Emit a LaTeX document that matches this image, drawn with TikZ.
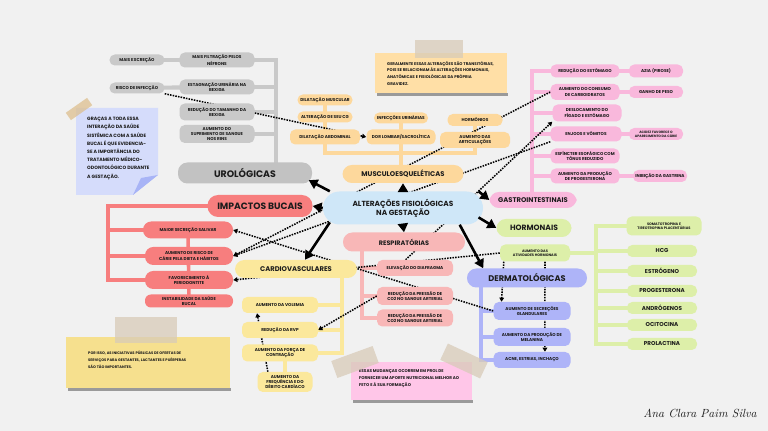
\documentclass[tikz,border=0pt]{standalone}
\usepackage{fontspec}
\usepackage{tikz}
\usetikzlibrary{arrows.meta,positioning,calc,backgrounds}
\newfontfamily\pop{Poppins}
\definecolor{paper}{HTML}{F1F1F1}
\definecolor{ink}{HTML}{1C1C1C}
\definecolor{urogray}{HTML}{C9C9C9}
\definecolor{urodark}{HTML}{C2C2C2}
\definecolor{orangel}{HTML}{FDD89C}
\definecolor{gastropink}{HTML}{F9B8DC}
\definecolor{bucalred}{HTML}{F77E7E}
\definecolor{resppink}{HTML}{F8B7B7}
\definecolor{cardioyellow}{HTML}{FBE89C}
\definecolor{hormgreen}{HTML}{DDEFA9}
\definecolor{dermablue}{HTML}{AEB4F8}
\definecolor{centerblue}{HTML}{CFE7F8}
\definecolor{noteorange}{HTML}{FFDFA6}
\definecolor{noteblue}{HTML}{D5DCFB}
\definecolor{notefold}{HTML}{A8B4F6}
\definecolor{noteyellow}{HTML}{F6E08E}
\definecolor{notepink}{HTML}{FFC6E8}
\definecolor{tape}{HTML}{D8CBB8}
\definecolor{tapewarm}{HTML}{DDBF8F}
\definecolor{shadow}{HTML}{9A9A9A}
\pgfdeclarelayer{paper}
\pgfdeclarelayer{links}
\pgfsetlayers{paper,links,main}
\tikzset{
  leaf/.style={rectangle, rounded corners=4.5pt, fill=#1, text=ink,
    font=\pop\bfseries\fontsize{3.6}{4.3}\selectfont, align=center, inner sep=1pt},
  leaf/.default=urogray,
  topic/.style={rectangle, rounded corners=8pt, fill=#1, text=ink,
    font=\pop\bfseries\fontsize{6}{7}\selectfont, align=center, inner sep=2pt},
  topic/.default=urodark,
  boxsize/.style 2 args={minimum width=#1*0.85pt, minimum height=#2*0.85pt},
  stem/.style={line width=3pt, color=#1, line cap=rect},
  mainarrow/.style={-{Triangle[length=7.5pt,width=8.5pt]}, line width=2.2pt, color=black},
  linkarrow/.style={-{Triangle[length=3.5pt,width=4pt]}, line width=1.3pt, color=black,
    dash pattern=on 1.3pt off 1pt},
  notetext/.style 2 args={anchor=north west, align=left, text=ink, inner sep=0pt,
    font=\pop\bfseries\fontsize{#1}{#2}\selectfont},
  tapestrip/.style={fill=#1, fill opacity=0.75, inner sep=0pt},
  tapestrip/.default=tape,
}

\begin{document}
\begin{tikzpicture}[x=0.85pt, y=-0.85pt]
  \useasboundingbox (0,0) rectangle (768,431);
  \begin{pgfonlayer}{paper}
    \fill[paper] (0,0) rectangle (768,431);
  \end{pgfonlayer}

  % ── sticky notes ──
  \fill[shadow] (377,93) rectangle (508,96);
  \fill[noteorange] (375,53) rectangle (507,93);
  \node[notetext={3.4}{5.8}] (notegeral) at (387,61)
    {GERALMENTE ESSAS ALTERAÇÕES SÃO TRANSITÓRIAS,\\POIS SE RELACIONAM ÀS ALTERAÇÕES HORMONAIS,\\ANATÔMICAS E FISIOLÓGICAS DA PRÓPRIA\\GRAVIDEZ.};
  \node[tapestrip, minimum width=48*0.85pt, minimum height=18*0.85pt] (tapegeral) at (439,49) {};

  \fill[noteblue] (76,108) -- (158,108) -- (158,175) -- (133,195) -- (76,195) -- cycle;
  \fill[notefold] (158,175) -- (133,195) -- (141,178) -- cycle;
  \node[notetext={4}{7}] (notegracas) at (87,117)
    {GRAÇAS A TODA ESSA\\INTERAÇÃO DA SAÚDE\\SISTÊMICA COM A SAÚDE\\BUCAL É QUE EVIDENCIA-\\SE A IMPORTÂNCIA DO\\TRATAMENTO MÉDICO-\\ODONTOLÓGICO DURANTE\\A GESTAÇÃO.};
  \node[tapestrip=tapewarm, minimum width=26*0.85pt, minimum height=9*0.85pt, rotate=35] (tapegracas) at (79,109) {};

  \fill[shadow] (68,388) rectangle (231,391);
  \fill[noteyellow] (66,337) rectangle (230,388);
  \node[notetext={3.1}{6}] (noteporisso) at (88,351)
    {POR ISSO, AS INICIATIVAS PÚBLICAS DE OFERTAS DE\\SERVIÇOS PARA GESTANTES, LACTANTES E PUÉRPERAS\\SÃO TÃO IMPORTANTES.};
  \node[tapestrip, minimum width=62*0.85pt, minimum height=26*0.85pt] (tapeporisso) at (146,330) {};

  \fill[shadow] (353,400) rectangle (473,403);
  \fill[notepink] (351,362) rectangle (472,400);
  \node[notetext={3.5}{6.2}] (notemudancas) at (359,369)
    {ESSAS MUDANÇAS OCORREM EM PROL DE\\FORNECER UM APORTE NUTRICIONAL MELHOR AO\\FETO E À SUA FORMAÇÃO};
  \node[tapestrip, minimum width=44*0.85pt, minimum height=18*0.85pt, rotate=20] (tapemud1) at (355,362) {};
  \node[tapestrip, minimum width=44*0.85pt, minimum height=18*0.85pt, rotate=-25] (tapemud2) at (464,361) {};

  % ── centre ──
  \node[topic=centerblue, boxsize={160}{33}, rounded corners=14pt,
        font=\pop\bfseries\fontsize{6.3}{7.6}\selectfont] (alter) at (403,208)
    {ALTERAÇÕES FISIOLÓGICAS\\NA GESTAÇÃO};

  % ── urológicas ──
  \node[topic, boxsize={134}{21}, font=\pop\bfseries\fontsize{8}{9}\selectfont] (uro) at (245,173) {UROLÓGICAS};
  \node[leaf, boxsize={75}{15}] (filtracao) at (217,60) {MAIS FILTRAÇÃO PELOS\\NÉFRONS};
  \node[leaf, boxsize={55}{11}] (excrecao) at (137,60) {MAIS EXCREÇÃO};
  \node[leaf, boxsize={75}{15}] (estagnacao) at (217,87) {ESTAGNAÇÃO URINÁRIA NA\\BEXIGA};
  \node[leaf, boxsize={55}{11}] (risco) at (137,88) {RISCO DE INFECÇÃO};
  \node[leaf, boxsize={75}{17}] (bexiga) at (217,112) {REDUÇÃO DO TAMANHO DA\\BEXIGA};
  \node[leaf, boxsize={75}{18}] (rins) at (217,134) {AUMENTO DO\\SUPRIMENTO DE SANGUE\\NOS RINS};

  % ── musculoesqueléticas ──
  \node[topic=orangel, boxsize={121}{18}, font=\pop\bfseries\fontsize{5.8}{7}\selectfont] (musculo) at (403,174) {MUSCULOESQUELÉTICAS};
  \node[leaf=orangel, boxsize={55}{11}] (dmusc) at (325,100) {DILATAÇÃO MUSCULAR};
  \node[leaf=orangel, boxsize={55}{11}] (cg) at (325,117) {ALTERAÇÃO DE SEU CG};
  \node[leaf=orangel, boxsize={70}{15}] (dabd) at (325,137) {DILATAÇÃO ABDOMINAL};
  \node[leaf=orangel, boxsize={54}{11}] (infec) at (401,118) {INFECÇÕES URINÁRIAS};
  \node[leaf=orangel, boxsize={69}{15}] (dor) at (401,137) {DOR LOMBAR/SACROLÍTICA};
  \node[leaf=orangel, boxsize={55}{12}] (horm) at (475,120) {HORMÔNIOS};
  \node[leaf=orangel, boxsize={70}{16}] (artic) at (475,140) {AUMENTO DAS\\ARTICULAÇÕES};

  % ── gastrointestinais ──
  \node[topic=gastropink, boxsize={87}{16}, font=\pop\bfseries\fontsize{5.8}{7}\selectfont] (gastro) at (533,200) {GASTROINTESTINAIS};
  \node[leaf=gastropink, boxsize={69}{13}] (estomago) at (585,71) {REDUÇÃO DO ESTÔMAGO};
  \node[leaf=gastropink, boxsize={54}{13}] (azia) at (656,71) {AZIA (PIROSE)};
  \node[leaf=gastropink, boxsize={69}{16}] (carbo) at (585,92) {AUMENTO DO CONSUMO\\DE CARBOIDRATOS};
  \node[leaf=gastropink, boxsize={54}{12}] (peso) at (656,92) {GANHO DE PESO};
  \node[leaf=gastropink, boxsize={69}{17}] (desloc) at (587,113) {DESLOCAMENTO DO\\FÍGADO E ESTÔMAGO};
  \node[leaf=gastropink, boxsize={71}{15}] (enjoos) at (586,134) {ENJOOS E VÔMITOS};
  \node[leaf=gastropink, boxsize={54}{12}, font=\pop\bfseries\fontsize{2.8}{3.4}\selectfont] (acidez) at (656,134) {ACIDEZ FAVORECE O\\APARECIMENTO DA CÁRIE};
  \node[leaf=gastropink, boxsize={69}{15}] (esfincter) at (585,156) {ESFÍNCTER ESOFÁGICO COM\\TÔNUS REDUZIDO};
  \node[leaf=gastropink, boxsize={69}{15}] (progest) at (585,176) {AUMENTO DA PRODUÇÃO\\DE PROGESTERONA};
  \node[leaf=gastropink, boxsize={54}{12}] (gastrina) at (660,176) {INIBIÇÃO DA GASTRINA};

  % ── hormonais ──
  \node[topic=hormgreen, boxsize={75}{18}, font=\pop\bfseries\fontsize{6.5}{7.5}\selectfont] (hormonais) at (534,228) {HORMONAIS};
  \node[leaf=hormgreen, boxsize={70}{17}, font=\pop\bfseries\fontsize{3}{3.8}\selectfont] (ativ) at (535,253) {AUMENTO DAS\\ATIVIDADES HORMONAIS};
  \node[leaf=hormgreen, boxsize={75}{19}, font=\pop\bfseries\fontsize{3}{3.8}\selectfont] (somato) at (664,226) {SOMATOTROPINA E\\TIREOTROPINA PLACENTÁRIAS};
  \foreach \h/\y/\t in {hcg/251/HCG, estrogeno/271/ESTRÓGENO, progesterona/291/PROGESTERONA,
                        androgenos/308/ANDRÓGENOS, ocitocina/325/OCITOCINA, prolactina/344/PROLACTINA}
    \node[leaf=hormgreen, boxsize={70}{12}, font=\pop\bfseries\fontsize{4.8}{5.5}\selectfont] (\h) at (662,\y) {\t};

  % ── dermatológicas ──
  \node[topic=dermablue, boxsize={120}{19}, font=\pop\bfseries\fontsize{7}{8}\selectfont] (dermato) at (527,278) {DERMATOLÓGICAS};
  \node[leaf=dermablue, boxsize={77}{18}] (glandulares) at (532,311) {AUMENTO DE SECREÇÕES\\GLANDULARES};
  \node[leaf=dermablue, boxsize={77}{18}] (melanina) at (532,337) {AUMENTO DA PRODUÇÃO DE\\MELANINA};
  \node[leaf=dermablue, boxsize={77}{16}] (acne) at (532,360) {ACNE, ESTRIAS, INCHAÇO};

  % ── respiratórias ──
  \node[topic=resppink, boxsize={122}{19}, font=\pop\bfseries\fontsize{5.5}{6.5}\selectfont] (resp) at (404,242) {RESPIRATÓRIAS};
  \node[leaf=resppink, boxsize={76}{16}] (diafragma) at (415,268) {ELEVAÇÃO DO DIAFRAGMA};
  \node[leaf=resppink, boxsize={76}{18}] (pressao1) at (415,296) {REDUÇÃO DA PRESSÃO DE\\CO2 NO SANGUE ARTERIAL};
  \node[leaf=resppink, boxsize={76}{17}] (pressao2) at (415,318) {REDUÇÃO DA PRESSÃO DE\\CO2 NO SANGUE ARTERIAL};

  % ── cardiovasculares ──
  \node[topic=cardioyellow, boxsize={122}{18}, font=\pop\bfseries\fontsize{5.8}{7}\selectfont] (cardio) at (296,269) {CARDIOVASCULARES};
  \node[leaf=cardioyellow, boxsize={76}{16}] (volemia) at (280,305) {AUMENTO DA VOLEMIA};
  \node[leaf=cardioyellow, boxsize={76}{16}] (rvp) at (280,330) {REDUÇÃO DA RVP};
  \node[leaf=cardioyellow, boxsize={76}{17}] (forca) at (280,353) {AUMENTO DA FORÇA DE\\CONTRAÇÃO};
  \node[leaf=cardioyellow, boxsize={55}{20}] (freq) at (285,382) {AUMENTO DA\\FREQUÊNCIA E DO\\DÉBITO CARDÍACO};

  % ── impactos bucais ──
  \node[topic=bucalred, boxsize={105}{22}, rounded corners=9pt, font=\pop\bfseries\fontsize{7.8}{9}\selectfont] (bucal) at (260,206) {IMPACTOS BUCAIS};
  \node[leaf=bucalred, boxsize={90}{17}, rounded corners=7pt] (salivar) at (188,230) {MAIOR SECREÇÃO SALIVAR};
  \node[leaf=bucalred, boxsize={88}{18}, rounded corners=7pt] (carie) at (189,256) {AUMENTO DE RISCO DE\\CÁRIE PELA DIETA E HÁBITOS};
  \node[leaf=bucalred, boxsize={88}{18}, rounded corners=7pt] (periodontite) at (189,280) {FAVORECIMENTO À\\PERIODONTITE};
  \node[leaf=bucalred, boxsize={88}{13}, rounded corners=5pt] (instab) at (189,301) {INSTABILIDADE DA SAÚDE\\BUCAL};

  \node[font=\itshape\fontsize{10}{10}\selectfont, text=ink] (assinatura) at (700,413) {Ana Clara Paim Silva};

  % ── branch lines and dotted links behind the boxes ──
  \begin{pgfonlayer}{links}
    \coordinate (urospine) at (276,0);
    \draw[stem=urogray, line width=3.5pt] (filtracao.east -| urospine) -- (uro.north -| urospine);
    \foreach \n in {filtracao, estagnacao, bexiga, rins}
      \draw[stem=urogray, line width=3.5pt] (\n.east) -- (\n.east -| urospine);
    \draw[stem=urogray, line width=3.5pt] (excrecao) -- (filtracao);
    \draw[stem=urogray, line width=3.5pt] (risco) -- (estagnacao);

    \coordinate (mbar) at (0,153);
    \draw[stem=orangel] (dmusc) -- (dmusc |- mbar) -- (horm |- mbar) -- (horm);
    \draw[stem=orangel] (infec) -- (infec |- musculo.north);

    \coordinate (bspine) at (108,0);
    \draw[stem=bucalred, line width=3.5pt] (bucal.west) -- (bucal.west -| bspine) -- (periodontite -| bspine) -- (periodontite);
    \foreach \n in {salivar, carie}
      \draw[stem=bucalred, line width=3.5pt] (\n -| bspine) -- (\n);
    \draw[stem=bucalred] (salivar) -- (instab);

    \coordinate (gspine) at (532,0);
    \draw[stem=gastropink] (gastro.north -| gspine) -- (estomago -| gspine);
    \foreach \a/\b in {estomago/azia, carbo/peso, desloc/desloc, enjoos/acidez, esfincter/esfincter, progest/gastrina}
      \draw[stem=gastropink] (\a -| gspine) -- (\b);

    \coordinate (hspine) at (596,0);
    \draw[stem=hormgreen] (ativ) -- (ativ -| hspine);
    \draw[stem=hormgreen] (somato -| hspine) -- (prolactina -| hspine);
    \foreach \n in {somato, hcg, estrogeno, progesterona, androgenos, ocitocina, prolactina}
      \draw[stem=hormgreen] (\n -| hspine) -- (\n);

    \coordinate (dspine) at (481,0);
    \draw[stem=dermablue] (dermato.south -| dspine) -- (acne -| dspine);
    \foreach \n in {glandulares, melanina, acne}
      \draw[stem=dermablue] (\n -| dspine) -- (\n);

    \coordinate (rspine) at (362,0);
    \draw[stem=resppink] (resp.south -| rspine) -- (pressao2 -| rspine);
    \foreach \n in {diafragma, pressao1, pressao2}
      \draw[stem=resppink] (\n -| rspine) -- (\n);

    \coordinate (cspine) at (342,0);
    \draw[stem=cardioyellow] (cardio.south -| cspine) -- (forca -| cspine);
    \foreach \n in {volemia, rvp, forca}
      \draw[stem=cardioyellow] (\n -| cspine) -- (\n);
    \draw[stem=cardioyellow] (freq) -- (freq |- forca);

    % dotted cross links
    \draw[linkarrow] (risco.south east) -- (dor.west);
    \draw[linkarrow] (carbo.west) -- (carie.east);
    \draw[linkarrow] (enjoos.south west) -- (carie.east);
    \draw[linkarrow] ([xshift=-8pt]diafragma.north) -- (desloc.south west);
    \draw[linkarrow] (glandulares.west) -- (salivar.east);
    \draw[linkarrow] (pressao1.west) -- (rvp.east);
    \draw[linkarrow] (ativ.west) -- (periodontite.east);
    \draw[linkarrow] ([xshift=9pt]freq.north west) -- ([xshift=13pt]volemia.south west);
    \draw[linkarrow] ([xshift=3.4pt]ativ.south west) -- ([xshift=7pt]glandulares.north west);
    \draw[linkarrow] ([xshift=8.5pt]ativ.south) -- ([xshift=11pt]acne.north);
  \end{pgfonlayer}

  % ── main arrows out of the centre ──
  \draw[mainarrow] ([xshift=6pt]alter.north west) -- ([xshift=-3pt,yshift=3pt]uro.south east);
  \draw[mainarrow] (alter.north) -- (musculo.south);
  \draw[mainarrow] (alter.west) -- (bucal.east);
  \draw[mainarrow] ([xshift=6pt,yshift=2pt]alter.south west) -- ([xshift=7.6pt]cardio.north);
  \draw[mainarrow] (alter.south) -- (resp.north);
  \draw[mainarrow] ([xshift=-4pt]alter.north east) -- (gastro.west);
  \draw[mainarrow] ([xshift=-4pt,yshift=-8pt]alter.east) -- (hormonais.west);
  \draw[mainarrow] ([xshift=-20pt]alter.south east) -- ([xshift=14pt]dermato.north west);
\end{tikzpicture}
\end{document}
